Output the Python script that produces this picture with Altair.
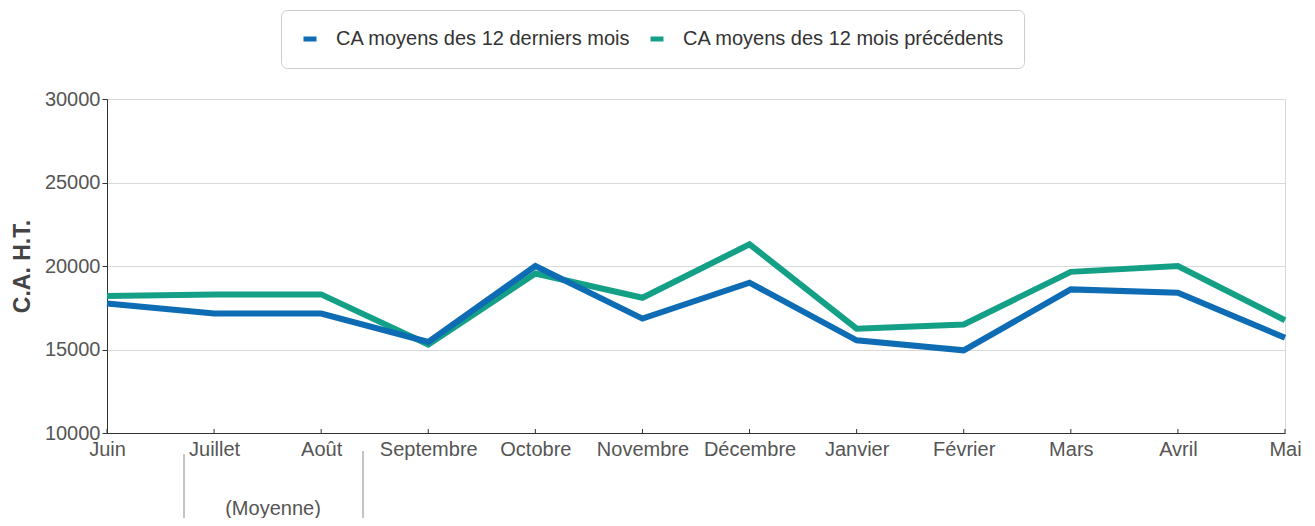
import altair as alt
import pandas as pd

months = ["Juin", "Juillet", "Août", "Septembre", "Octobre", "Novembre",
          "Décembre", "Janvier", "Février", "Mars", "Avril", "Mai"]
serie_derniers = [17750, 17150, 17150, 15450, 20000, 16850, 19000, 15550, 14950, 18600, 18400, 15700]
serie_precedents = [18200, 18300, 18300, 15300, 19550, 18100, 21300, 16250, 16500, 19650, 20000, 16750]
label_derniers = "CA moyens des 12 derniers mois"
label_precedents = "CA moyens des 12 mois précédents"
y_ticks = [10000, 15000, 20000, 25000, 30000]

rows = []
for m, v in zip(months, serie_derniers):
    rows.append({"mois": m, "ca": v, "serie": label_derniers})
for m, v in zip(months, serie_precedents):
    rows.append({"mois": m, "ca": v, "serie": label_precedents})
df = pd.DataFrame(rows)
df_months = pd.DataFrame({"mois": months})

FONT = "Liberation Sans"
W, H = 1178, 334

x_enc = alt.X("mois:N", sort=months, scale=alt.Scale(type="point", padding=0),
              axis=alt.Axis(title=None, labelFontSize=20, labelColor="#555555",
                            labelFont=FONT, labelAngle=0, tickSize=0,
                            labelPadding=6, domainColor="#333333",
                            labelOverlap=False, grid=False))
y_enc = alt.Y("ca:Q", scale=alt.Scale(domain=[10000, 30000], nice=False, zero=False),
              axis=alt.Axis(title="C.A. H.T.", values=y_ticks, format="d",
                            labelFontSize=20, labelColor="#555555", labelFont=FONT,
                            tickSize=5, tickColor="#333333", labelPadding=2,
                            domainColor="#333333", gridColor="#d9d9d9",
                            titleFontSize=23, titleFont=FONT, titleFontWeight="bold",
                            titleColor="#444444", titleX=-85, titleY=H / 2,
                            titleAngle=270, titleAlign="center",
                            titleBaseline="middle"))
color_enc = alt.Color("serie:N",
                      scale=alt.Scale(domain=[label_derniers, label_precedents],
                                      range=["#0e6cb5", "#14a086"]),
                      legend=alt.Legend(title=None, orient="none", legendX=174,
                                        legendY=-89, direction="horizontal",
                                        labelFontSize=20, labelFont=FONT,
                                        labelColor="#333333", labelLimit=500,
                                        symbolType="stroke",
                                        symbolSize=169, symbolStrokeWidth=5,
                                        labelOffset=16, columnPadding=9,
                                        padding=19, strokeColor="#cccccc",
                                        cornerRadius=6, fillColor="white"))

base = alt.Chart(df)
line_green = base.transform_filter(alt.datum.serie == label_precedents).mark_line(
    strokeWidth=6).encode(x=x_enc, y=y_enc, color=color_enc)
line_blue = base.transform_filter(alt.datum.serie == label_derniers).mark_line(
    strokeWidth=6).encode(x=x_enc, y=y_enc, color=color_enc)

ticks = alt.Chart(df_months).mark_rule(color="#333333", strokeWidth=1).encode(
    x=alt.X("mois:N", sort=months), y=alt.value(H), y2=alt.value(H - 4))

ann_data = pd.DataFrame({"txt": ["(Moyenne)"]})
ann_l = alt.Chart(ann_data).mark_rule(color="#888888", strokeWidth=1).encode(
    x=alt.value(77), y=alt.value(355), y2=alt.value(420))
ann_r = alt.Chart(ann_data).mark_rule(color="#888888", strokeWidth=1).encode(
    x=alt.value(256), y=alt.value(352), y2=alt.value(420))
ann_t = alt.Chart(ann_data).mark_text(fontSize=20, font=FONT, color="#555555",
                                      baseline="alphabetic").encode(
    x=alt.value(166), y=alt.value(416), text="txt:N")

chart = alt.layer(line_green, line_blue, ticks, ann_l, ann_r, ann_t).properties(
    width=W, height=H,
    autosize=alt.AutoSizeParams(type="none"),
    padding={"left": 99, "top": 91, "right": 22, "bottom": 85},
).configure_view(stroke="#d9d9d9", strokeWidth=1).configure_axis(
    domainWidth=1)

chart.save("out.html", embed_options={"renderer": "svg", "actions": False})
